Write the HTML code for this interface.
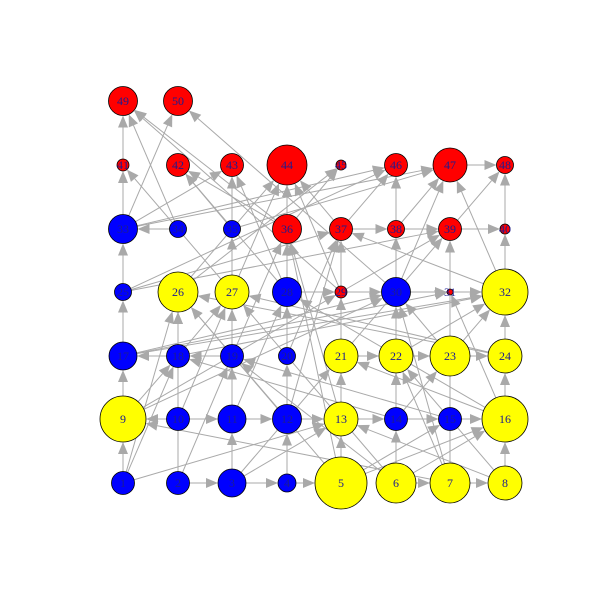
<!DOCTYPE html>
<html><head><meta charset="utf-8"><style>
html,body{margin:0;padding:0;background:#fff;}
svg{display:block;}
text{font-family:"Liberation Serif",serif;font-size:12px;fill:#1c1c90;text-anchor:middle;dominant-baseline:central;}
</style></head><body>
<svg id="chart" width="600" height="600" viewBox="0 0 600 600">
<g id="edges"></g>
<g id="nodes"></g>
</svg>
<script>
const colX = [123,178,232,287,341,396,450,505];
const rowY = [483,419,356,292,229,165,101];
const nodeColors = ["blue","blue","blue","blue","yellow","yellow","yellow","yellow",
"yellow","blue","blue","blue","yellow","blue","blue","yellow",
"blue","blue","blue","blue","yellow","yellow","yellow","yellow",
"blue","yellow","yellow","blue","red","blue","red","yellow",
"blue","blue","blue","red","red","red","red","red",
"red","red","red","red","red","red","red","red","red","red"];
const nodeSizes = [11.5,11.5,14,9,26,20,20,17,
23,11.5,14,14.5,17,11.5,11.5,23,
14,11.5,11.5,8.5,17,17,20,17,
8.5,20,17,14.5,6,14.5,3,23,
14.5,8.5,8.5,14.5,11.5,8.5,11.5,5,
6,11.5,11.5,20,5,11.5,17,8.5,14.5,14.5];
const edgeFrom = [2,3,1,9,17,25,33,41,1,1,2,3,11,19,27,35,3,4,12,20,28,36,5,13,21,6,14,22,8,16,24,32,40,6,7,10,10,11,12,13,14,15,18,19,21,22,23,28,29,30,31,34,37,38,39,47,33,33,33,34,35,36,37,37,38,39,32,30,30,29,29,25,25,17,18,9,9,10,11,12,2,5,6,6,6,6,7,7,8,14,14,15,16,16,5,5,5,5,6,6,7,13,12,21,22,23,24,19,19,20,26,27,28,28,30,36,36,32,23,8,3,1,4,17,17,18,25,33,27,35,9,10,16,7,24,29,30,26,20];
const edgeTo   = [3,4,9,17,25,33,41,49,18,13,19,11,19,27,35,43,13,12,20,28,36,44,13,21,29,14,22,30,16,24,32,40,48,7,8,9,11,12,13,14,15,16,17,18,22,23,24,29,30,31,32,33,38,39,40,48,43,47,50,49,47,45,46,44,47,48,47,46,47,44,49,37,46,32,27,18,30,26,28,26,26,15,22,16,27,19,22,9,13,23,18,19,21,28,16,36,37,26,38,46,39,36,37,39,32,32,27,36,43,44,44,44,42,43,50,49,42,37,30,22,21,26,5,30,31,32,39,46,41,42,29,27,31,30,26,39,38,45,37];

function pos(i){ return [colX[(i-1)%8], rowY[Math.floor((i-1)/8)]]; }
const fillMap = {blue:"#0000ff", yellow:"#ffff00", red:"#ff0000"};
const NS = "http://www.w3.org/2000/svg";
const eg = document.getElementById("edges");
const ng = document.getElementById("nodes");

for (let k=0;k<edgeFrom.length;k++){
  const a=edgeFrom[k], b=edgeTo[k];
  const [x1,y1]=pos(a), [x2,y2]=pos(b);
  const dx=x2-x1, dy=y2-y1, L=Math.hypot(dx,dy), ux=dx/L, uy=dy/L;
  const sx=x1+ux*nodeSizes[a-1], sy=y1+uy*nodeSizes[a-1];
  const ex=x2-ux*nodeSizes[b-1], ey=y2-uy*nodeSizes[b-1];
  const bx=ex-ux*12, by=ey-uy*12;
  const line=document.createElementNS(NS,"line");
  line.setAttribute("x1",sx);line.setAttribute("y1",sy);
  line.setAttribute("x2",bx);line.setAttribute("y2",by);
  line.setAttribute("stroke","#a9a9a9");line.setAttribute("stroke-width","1");
  
  
  eg.appendChild(line);
  const px=-uy, py=ux;
  const tri=document.createElementNS(NS,"polygon");
  tri.setAttribute("points",`${ex},${ey} ${bx+px*5},${by+py*5} ${bx-px*5},${by-py*5}`);
  tri.setAttribute("fill","#a9a9a9");
  
  
  eg.appendChild(tri);
}
for (let i=1;i<=nodeColors.length;i++){
  const [x,y]=pos(i);
  const g=document.createElementNS(NS,"g");
  
  
  const c=document.createElementNS(NS,"circle");
  c.setAttribute("cx",x);c.setAttribute("cy",y);c.setAttribute("r",nodeSizes[i-1]);
  c.setAttribute("fill",fillMap[nodeColors[i-1]]);c.setAttribute("stroke","#000");c.setAttribute("stroke-width","0.8");
  g.appendChild(c);
  const t=document.createElementNS(NS,"text");
  t.setAttribute("x",x);t.setAttribute("y",y);t.textContent=i;
  
  
  g.appendChild(t);
  ng.appendChild(g);
}
</script>
</body></html>
